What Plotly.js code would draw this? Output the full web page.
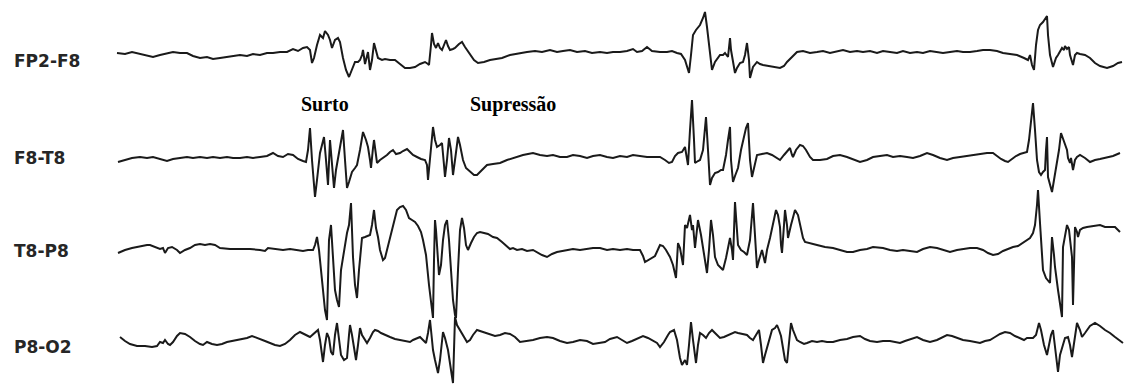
<!DOCTYPE html>
<html>
<head>
<meta charset="utf-8">
<script src="https://cdn.plot.ly/plotly-3.0.1.min.js"></script>
<style>html,body{margin:0;padding:0;background:#fff;}#chart{width:1129px;height:385px;}</style>
</head>
<body>
<div id="chart"></div>
<script>
// Channel names
const channels = ["FP2-F8", "F8-T8", "T8-P8", "P8-O2"];
const annotationsText = ["Surto", "Supressão"];

// FP2-F8: time samples and amplitude
const fp2f8_t = [117,125,132,140,147,153,160,167,173,180,187,193,200,207,213,220,227,233,240,247,253,260,267,273,280,287,293,298,303,307,310,312,314,317,320,323,325,328,330,332,335,338,340,343,346,349,352,355,358,360,362,363,365,367,368,370,372,374,376,378,382,385,390,395,400,405,410,415,420,425,428,429,431,432,434,436,438,440,442,444,446,448,450,453,455,459,462,465,470,474,478,484,490,496,502,510,520,527,535,542,550,557,563,570,577,585,592,600,607,613,620,627,633,637,642,647,652,660,667,672,677,681,685,689,691,693,696,698,700,703,705,707,709,712,715,718,720,723,725,728,730,731,733,735,737,740,743,745,747,749,750,752,753,757,760,763,770,775,780,784,787,792,797,803,810,817,823,830,837,843,850,857,863,870,877,883,890,897,903,910,917,923,930,937,943,950,957,963,970,977,983,990,997,1003,1010,1017,1024,1028,1030,1032,1034,1036,1038,1040,1043,1046,1047,1048,1050,1053,1056,1058,1060,1062,1064,1065,1067,1069,1070,1072,1073,1075,1077,1080,1085,1090,1095,1100,1104,1107,1110,1113,1118,1122];
const fp2f8_v = [0,-1,1,-1,-3,-4,-2,0,1,0,0,-3,-5,-4,-6,-5,-4,-3,-2,-3,-1,-2,0,0,1,1,4,2,5,6,3,-10,-5,8,18,15,22,18,13,5,13,15,11,-5,-17,-24,-17,-9,-9,-7,-2,3,-11,-2,1,-17,-7,10,3,-5,-7,-6,-7,-7,-11,-15,-15,-14,-11,-9,-11,-12,8,20,9,5,10,5,3,8,13,7,3,4,5,9,11,6,-2,-7,-10,-9,-7,-6,-5,-2,0,1,2,1,3,1,2,3,1,2,0,1,0,1,1,2,4,1,2,6,2,1,1,2,0,-1,-7,-20,-2,18,23,26,28,35,41,26,8,-17,-9,-5,-2,-2,0,-4,15,3,-9,-20,-15,-10,-9,-2,10,-7,-25,-19,-14,-9,-11,-12,-13,-14,-15,-13,-9,-4,1,2,0,1,2,0,2,3,1,2,1,2,0,2,1,0,2,0,1,0,2,1,0,1,2,1,1,2,3,3,2,0,-1,-2,-5,-7,-2,-12,-17,8,23,28,31,35,37,18,-2,-14,-5,-2,1,5,3,7,4,6,-2,-9,-12,-2,0,-1,-2,-5,-10,-13,-14,-15,-14,-13,-10,-9];

// F8-T8
const f8t8_t = [118,125,132,140,147,153,160,167,173,180,187,193,200,207,213,220,227,233,240,247,253,260,267,273,278,283,288,293,298,303,306,308,310,312,315,317,320,322,324,326,328,330,332,334,336,338,341,343,345,347,349,352,355,357,360,363,366,368,370,371,373,374,376,377,380,383,387,390,393,396,400,403,407,410,413,417,421,425,427,428,430,431,433,435,437,440,442,444,445,447,449,451,453,455,458,460,463,466,470,474,477,482,487,493,500,507,513,517,523,528,533,540,547,553,560,567,573,580,587,593,600,607,613,620,627,633,640,647,653,660,665,669,672,675,678,682,685,687,688,690,692,694,695,698,700,703,706,708,710,712,715,718,721,723,726,728,730,731,733,735,738,741,744,746,748,750,752,754,757,762,767,772,777,780,784,788,790,792,793,796,800,803,806,810,813,820,827,833,840,847,853,860,867,873,880,887,893,900,907,913,920,927,933,940,947,953,960,967,973,980,987,993,997,1001,1005,1008,1012,1016,1020,1024,1027,1029,1031,1033,1035,1037,1039,1041,1043,1045,1046,1047,1048,1050,1052,1054,1057,1059,1061,1063,1065,1067,1068,1070,1071,1073,1075,1077,1080,1085,1090,1095,1100,1107,1113,1120];
const f8t8_v = [-4,-2,0,1,0,1,-1,-3,-1,0,1,0,1,0,1,0,1,0,0,1,0,1,2,5,2,1,4,3,-1,-3,-4,8,30,-2,-39,-22,5,13,21,-2,-27,18,-7,-30,-12,0,18,28,-2,-30,-24,-14,-10,-7,8,26,18,11,-2,-10,10,18,3,-5,-2,0,3,6,8,4,5,7,9,6,3,1,-1,-2,-7,-22,-2,8,31,18,11,13,15,-7,-19,-2,20,8,-17,-2,21,13,-2,-10,-14,-17,-17,-12,-7,-6,-5,-2,0,1,3,4,5,3,2,3,1,1,3,2,0,2,3,1,0,2,1,3,2,1,1,1,-2,-5,-4,2,5,6,11,-2,-7,28,58,18,-5,-3,-2,8,41,8,-27,-20,-15,-14,-12,-12,3,18,31,-2,-24,-18,-10,8,21,30,35,-2,-19,-10,3,4,5,3,0,-2,3,8,10,3,1,8,13,12,8,1,-2,-2,-1,2,3,1,-1,-4,-2,1,2,3,1,2,1,0,2,5,3,0,-2,0,1,2,3,4,5,5,2,-1,-3,-4,-1,2,4,5,6,18,40,55,28,-2,-14,-17,-14,-12,8,21,-19,-27,-34,-22,-5,8,25,20,15,8,0,-5,0,-12,-2,1,3,0,-4,-2,-1,1,2,5];

// T8-P8
const t8p8_t = [118,125,132,140,147,150,155,160,163,165,168,172,177,180,185,190,195,200,205,210,215,220,230,240,250,260,265,268,275,283,290,297,303,308,313,315,317,319,322,325,327,328,329,331,333,335,337,339,341,343,345,347,349,351,352,353,355,357,359,361,362,365,368,370,372,374,376,378,380,383,385,387,390,393,395,397,400,403,406,409,412,415,418,421,423,426,429,431,433,434,435,436,438,439,441,443,445,447,449,451,453,455,456,458,460,462,464,466,468,471,474,477,480,484,488,493,497,502,507,510,513,517,522,527,533,538,542,547,552,557,562,567,573,580,587,593,600,607,613,620,627,633,640,643,645,650,655,660,663,666,670,673,676,678,680,683,685,687,690,692,693,695,698,701,704,707,709,711,713,715,718,721,723,726,728,730,732,733,735,737,738,741,744,747,750,753,755,757,759,762,765,767,770,773,776,778,780,781,782,784,785,787,788,791,795,798,800,803,805,810,817,825,833,840,847,853,860,867,873,883,890,897,903,910,917,923,930,937,943,950,957,963,970,977,983,988,993,998,1003,1008,1013,1018,1023,1027,1030,1033,1035,1037,1038,1040,1042,1043,1046,1050,1051,1052,1054,1055,1058,1060,1062,1063,1065,1067,1069,1072,1073,1075,1077,1078,1080,1083,1087,1092,1097,1100,1105,1110,1115,1120];
const t8p8_v = [-3,0,2,4,5,5,3,1,2,-3,2,3,0,-3,0,2,5,6,5,6,5,2,1,1,1,0,-1,2,1,0,1,0,-1,0,0,5,13,0,-30,-60,-70,-30,10,25,-10,-40,-50,-57,-20,-7,2,17,25,47,20,-7,-35,-48,-20,5,12,13,14,15,25,40,22,13,0,-10,-8,0,15,25,35,40,43,44,40,32,30,28,24,18,10,-5,-35,-55,-68,-10,30,20,-10,-25,-15,10,25,30,10,-20,-50,-65,-68,-20,20,32,22,5,0,7,13,17,18,17,16,13,12,8,3,1,2,0,1,-1,0,-3,-5,-7,-4,-2,-1,0,1,0,1,2,2,0,1,0,1,0,0,-6,-12,-9,-6,5,4,0,-7,-15,-28,7,2,-15,25,22,35,20,25,2,30,15,-5,-23,0,30,15,-7,-15,-18,-20,-8,2,12,0,-10,48,15,5,0,-2,-5,10,47,10,-18,-10,0,-13,0,12,25,40,35,23,5,-3,25,40,25,12,25,40,35,27,12,8,7,5,3,2,0,-2,-2,0,1,3,2,0,-1,0,-1,-2,1,3,2,0,-2,0,1,2,2,0,-3,-5,-4,-1,1,3,4,7,10,12,17,25,45,60,27,0,-20,-28,-33,-10,13,-5,-17,-40,-55,-67,3,15,25,20,-7,-55,23,18,13,20,22,23,24,25,25,23,23,23,18];

// P8-O2
const p8o2_t = [120,125,130,137,145,152,157,160,163,165,168,170,173,177,180,185,190,195,200,203,207,212,217,222,227,232,237,242,247,252,255,260,265,270,275,280,285,290,295,300,305,308,310,313,316,318,320,323,325,327,329,331,333,335,337,339,341,344,347,349,350,352,354,356,358,360,362,365,367,370,373,375,378,381,385,390,395,400,405,410,413,417,420,423,426,428,430,432,433,435,438,440,443,445,448,451,453,454,455,457,460,463,467,470,473,477,480,485,490,495,500,505,510,515,520,527,533,540,547,553,560,567,573,580,587,593,600,605,610,617,622,627,632,638,643,648,652,657,660,664,668,670,674,677,680,682,685,687,689,691,693,695,696,698,700,703,706,709,712,715,718,720,724,728,732,735,738,742,747,750,753,756,759,761,763,765,767,770,772,775,777,779,781,783,785,787,789,791,793,797,800,804,807,812,817,822,827,833,840,847,853,860,865,870,877,883,890,895,900,905,910,917,923,930,937,943,947,952,958,963,970,975,980,985,990,995,1000,1005,1010,1015,1020,1024,1027,1030,1033,1036,1039,1041,1044,1047,1049,1051,1053,1055,1058,1060,1063,1065,1068,1070,1072,1074,1077,1080,1082,1085,1090,1095,1100,1105,1110,1115,1120,1123];
const p8o2_v = [3,-1,-4,-6,-6,-7,-6,-2,-3,0,-4,-5,-2,4,7,6,3,-1,-4,-5,-2,-4,-5,-4,-2,-1,0,1,2,4,3,1,-1,-3,-5,-6,-4,0,5,8,6,4,3,6,9,10,0,-22,-5,7,2,-12,-15,5,17,0,-15,-20,-18,5,15,5,-10,-20,-5,12,5,0,-3,2,8,10,9,7,5,3,1,0,-1,-2,0,2,3,0,-3,7,20,0,-10,-20,-33,-20,8,2,-10,-30,-43,-10,23,15,10,4,-2,0,5,10,9,7,5,4,5,7,6,3,-2,-1,0,2,3,2,-1,-3,-2,0,-1,-4,-3,-2,1,3,0,-3,-1,2,4,2,0,-3,-7,-2,5,8,10,0,-18,-25,-20,-25,-5,18,0,-18,-23,-5,7,5,2,7,10,7,4,2,3,5,7,8,7,6,5,2,0,5,10,-5,-23,-15,-8,2,10,12,15,10,4,-8,-20,-23,-5,17,10,0,-2,-4,-3,-1,-2,-1,-2,-2,0,1,3,4,1,-1,-2,-1,-1,-2,-3,-1,1,3,0,-2,0,3,5,4,2,0,-1,-2,-3,-1,0,3,6,8,7,4,2,0,2,2,2,5,17,10,-5,-15,-5,5,10,-5,-32,-15,-3,2,3,-5,-17,-5,17,10,3,7,14,17,14,10,7,3,-1,-3];

const series = [
  {name: channels[0], t: fp2f8_t, v: fp2f8_v},
  {name: channels[1], t: f8t8_t, v: f8t8_v},
  {name: channels[2], t: t8p8_t, v: t8p8_v},
  {name: channels[3], t: p8o2_t, v: p8o2_v}
];

const H = 385;
const baselines = [53, 158, 250, 340]; // vertical placement (px from top)
const axisNames = ['y', 'y2', 'y3', 'y4'];

const traces = series.map((s, i) => ({
  type: 'scatter', mode: 'lines', name: s.name,
  x: s.t, y: s.v, yaxis: axisNames[i],
  line: {color: '#1a1a1a', width: 2},
  hoverinfo: 'skip', showlegend: false
}));

const layout = {
  width: 1129, height: 385,
  margin: {l: 0, r: 0, t: 0, b: 0, pad: 0},
  paper_bgcolor: '#ffffff', plot_bgcolor: '#ffffff',
  showlegend: false,
  xaxis: {range: [0, 1129], visible: false, fixedrange: true},
  annotations: []
};
baselines.forEach((b, i) => {
  const key = i === 0 ? 'yaxis' : 'yaxis' + (i + 1);
  layout[key] = {range: [-(H - b), b], visible: false, fixedrange: true, domain: [0, 1]};
  if (i > 0) layout[key].overlaying = 'y';
});

const labelY = [-8, 0, -1, -7];
channels.forEach((c, i) => {
  layout.annotations.push({
    text: '<b>' + c + '</b>', xref: 'paper', x: 12 / 1129, xanchor: 'left',
    yref: axisNames[i], y: labelY[i], yanchor: 'middle', showarrow: false,
    font: {family: 'DejaVu Sans', size: 17, color: '#262626'}
  });
});
const noteX = [325, 513];
annotationsText.forEach((t, i) => {
  layout.annotations.push({
    text: '<b>' + t + '</b>', xref: 'x', x: noteX[i], xanchor: 'center',
    yref: 'y', y: -51, yanchor: 'middle', showarrow: false,
    font: {family: 'Liberation Serif', size: 20, color: '#000000'}
  });
});

Plotly.newPlot('chart', traces, layout, {staticPlot: true, displayModeBar: false});
</script>
</body>
</html>
